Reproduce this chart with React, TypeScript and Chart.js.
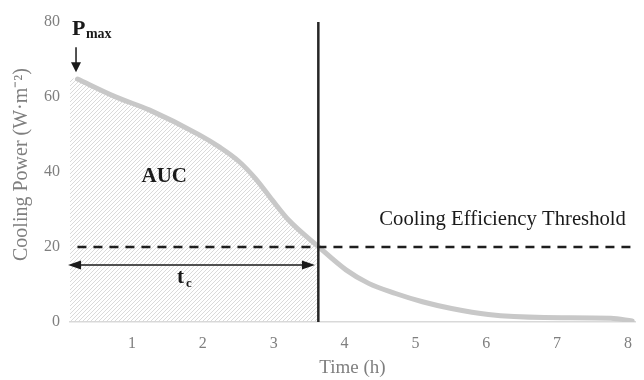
import React, { useEffect, useRef } from "react";
import { Chart, registerables } from "chart.js";

Chart.register(...registerables);

// Time (h) and cooling power (W·m⁻²)
const timeH = [0.23, 0.76, 1.25, 1.95, 2.23, 2.51, 2.74, 2.98, 3.21, 3.63, 4.02, 4.34, 4.72, 5.1, 5.51, 6.03, 6.82, 7.76, 8.06];
const powerW = [64.8, 60.1, 56.5, 49.9, 46.7, 42.8, 38.3, 32.5, 27.2, 20.1, 13.9, 10.3, 7.6, 5.4, 3.6, 2.0, 1.2, 1.0, 0.3];

// Hatched area under the curve up to t_c
const aucTime = [0.125, 0.23, 0.76, 1.25, 1.95, 2.23, 2.51, 2.74, 2.98, 3.21, 3.63];
const aucPower = [65, 64.8, 60.1, 56.5, 49.9, 46.7, 42.8, 38.3, 32.5, 27.2, 20.1];

// Reference lines
const thresholdTime = [0.23, 8.06];
const thresholdPower = [20, 20];
const tcTime = [3.63, 3.63];
const tcPower = [0, 80];
const tcArrowTime = [0.14, 3.54];
const tcArrowPower = [15.2, 15.2];
const pmaxArrowTime = [0.21, 0.21];
const pmaxArrowPower = [73.3, 67.7];

const xTicks = [1, 2, 3, 4, 5, 6, 7, 8];
const yTicks = [0, 20, 40, 60, 80];

const SERIF = "'Liberation Serif', 'Times New Roman', serif";

const pts = (xs: number[], ys: number[]) => xs.map((x, i) => ({ x, y: ys[i] }));

function makeHatch(): CanvasPattern | string {
  const c = document.createElement("canvas");
  c.width = 4;
  c.height = 4;
  const g = c.getContext("2d");
  if (!g) return "#e5e5e5";
  g.strokeStyle = "#d6d6d6";
  g.lineWidth = 0.9;
  g.beginPath();
  g.moveTo(-1, 5);
  g.lineTo(5, -1);
  g.moveTo(-1, 1);
  g.lineTo(1, -1);
  g.moveTo(3, 5);
  g.lineTo(5, 3);
  g.stroke();
  const p = g.createPattern(c, "repeat");
  return p || "#e5e5e5";
}

const annotationPlugin = {
  id: "annots",
  afterDatasetsDraw(chart: any) {
    const { ctx, scales } = chart;
    const xs = scales.x;
    const ys = scales.y;
    const px = (v: number) => xs.getPixelForValue(v);
    const py = (v: number) => ys.getPixelForValue(v);
    ctx.save();
    ctx.fillStyle = "#1a1a1a";

    // Pmax arrowhead
    const ax = px(pmaxArrowTime[1]);
    const ay = py(pmaxArrowPower[1]);
    ctx.beginPath();
    ctx.moveTo(ax, ay + 4);
    ctx.lineTo(ax - 5, ay - 6);
    ctx.lineTo(ax + 5, ay - 6);
    ctx.closePath();
    ctx.fill();

    // t_c double arrow heads
    const ly = py(tcArrowPower[0]);
    const lx = px(tcArrowTime[0]);
    const rx = px(tcArrowTime[1]);
    ctx.beginPath();
    ctx.moveTo(lx - 3, ly);
    ctx.lineTo(lx + 10, ly - 4.5);
    ctx.lineTo(lx + 10, ly + 4.5);
    ctx.closePath();
    ctx.fill();
    ctx.beginPath();
    ctx.moveTo(rx + 3, ly);
    ctx.lineTo(rx - 10, ly - 4.5);
    ctx.lineTo(rx - 10, ly + 4.5);
    ctx.closePath();
    ctx.fill();

    // Texts
    ctx.textBaseline = "alphabetic";
    ctx.textAlign = "left";
    ctx.font = `bold 22px ${SERIF}`;
    ctx.fillText("P", px(0.154), py(76.5));
    ctx.font = `bold 14px ${SERIF}`;
    ctx.fillText("max", px(0.35), py(75.7));

    ctx.textAlign = "center";
    ctx.font = `bold 21px ${SERIF}`;
    ctx.fillText("AUC", px(1.455), py(37.3));

    ctx.textAlign = "left";
    ctx.font = `bold 21px ${SERIF}`;
    ctx.fillText("t", px(1.636), py(10.4));
    ctx.font = `bold 13px ${SERIF}`;
    ctx.fillText("c", px(1.762), py(9.3));

    ctx.font = `20.7px ${SERIF}`;
    ctx.fillText("Cooling Efficiency Threshold", px(4.49), py(25.9));
    ctx.restore();
  },
};

export default function App() {
  const ref = useRef<HTMLCanvasElement | null>(null);

  useEffect(() => {
    if (!ref.current) return;
    const hatch = makeHatch();
    const base = { pointRadius: 0, pointHoverRadius: 0, fill: false, tension: 0 };
    const chart = new Chart(ref.current, {
      type: "line",
      data: {
        datasets: [
          {
            ...base,
            label: "AUC",
            data: pts(aucTime, aucPower),
            borderWidth: 0,
            borderColor: "rgba(0,0,0,0)",
            backgroundColor: hatch as any,
            fill: "origin",
            cubicInterpolationMode: "monotone",
            order: 10,
          },
          {
            ...base,
            label: "Cooling power",
            data: pts(timeH, powerW),
            borderColor: "#c8c8c8",
            borderWidth: 5,
            borderCapStyle: "round",
            borderJoinStyle: "round",
            cubicInterpolationMode: "monotone",
            order: 5,
          },
          {
            ...base,
            label: "Threshold",
            data: pts(thresholdTime, thresholdPower),
            borderColor: "#1e1e1e",
            borderWidth: 2.5,
            borderDash: [9, 7],
            order: 3,
          },
          {
            ...base,
            label: "t_c",
            data: pts(tcTime, tcPower),
            borderColor: "#262626",
            borderWidth: 2.5,
            order: 2,
          },
          {
            ...base,
            label: "t_c arrow",
            data: pts(tcArrowTime, tcArrowPower),
            borderColor: "#1a1a1a",
            borderWidth: 1.5,
            order: 1,
          },
          {
            ...base,
            label: "Pmax arrow",
            data: pts(pmaxArrowTime, pmaxArrowPower),
            borderColor: "#1a1a1a",
            borderWidth: 1.5,
            order: 1,
          },
        ],
      },
      options: {
        responsive: false,
        animation: false,
        events: [],
        layout: { padding: { left: 0, right: 3.8, top: 22, bottom: 0 } },
        plugins: {
          legend: { display: false },
          tooltip: { enabled: false },
        },
        scales: {
          x: {
            type: "linear",
            min: 0.125,
            max: 8.1,
            afterFit: (s: any) => {
              s.height = 58;
            },
            afterBuildTicks: (s: any) => {
              s.ticks = xTicks.map((v) => ({ value: v }));
            },
            grid: { display: false, drawTicks: false },
            border: { display: true, color: "#d9d9d9", width: 1.5 },
            ticks: {
              padding: 12,
              color: "#7f7f7f",
              font: { family: SERIF, size: 16 },
              maxRotation: 0,
            },
            title: {
              display: true,
              text: "Time (h)",
              color: "#7f7f7f",
              font: { family: SERIF, size: 19 },
              padding: { top: 0, bottom: 1 },
            },
          },
          y: {
            type: "linear",
            min: 0,
            max: 80,
            afterFit: (s: any) => {
              s.width = 70;
            },
            afterBuildTicks: (s: any) => {
              s.ticks = yTicks.map((v) => ({ value: v }));
            },
            grid: { display: false, drawTicks: false },
            border: { display: false },
            ticks: {
              padding: 10,
              color: "#7f7f7f",
              font: { family: SERIF, size: 16 },
            },
            title: {
              display: true,
              text: "   Cooling Power (W·m⁻²)",
              color: "#7f7f7f",
              font: { family: SERIF, size: 20 },
              padding: { top: 10, bottom: 0 },
            },
          },
        },
      },
      plugins: [annotationPlugin],
    } as any);
    return () => chart.destroy();
  }, []);

  return (
    <canvas
      ref={ref}
      width={644}
      height={380}
      style={{ position: "fixed", left: 0, top: 0, display: "block" }}
    />
  );
}
